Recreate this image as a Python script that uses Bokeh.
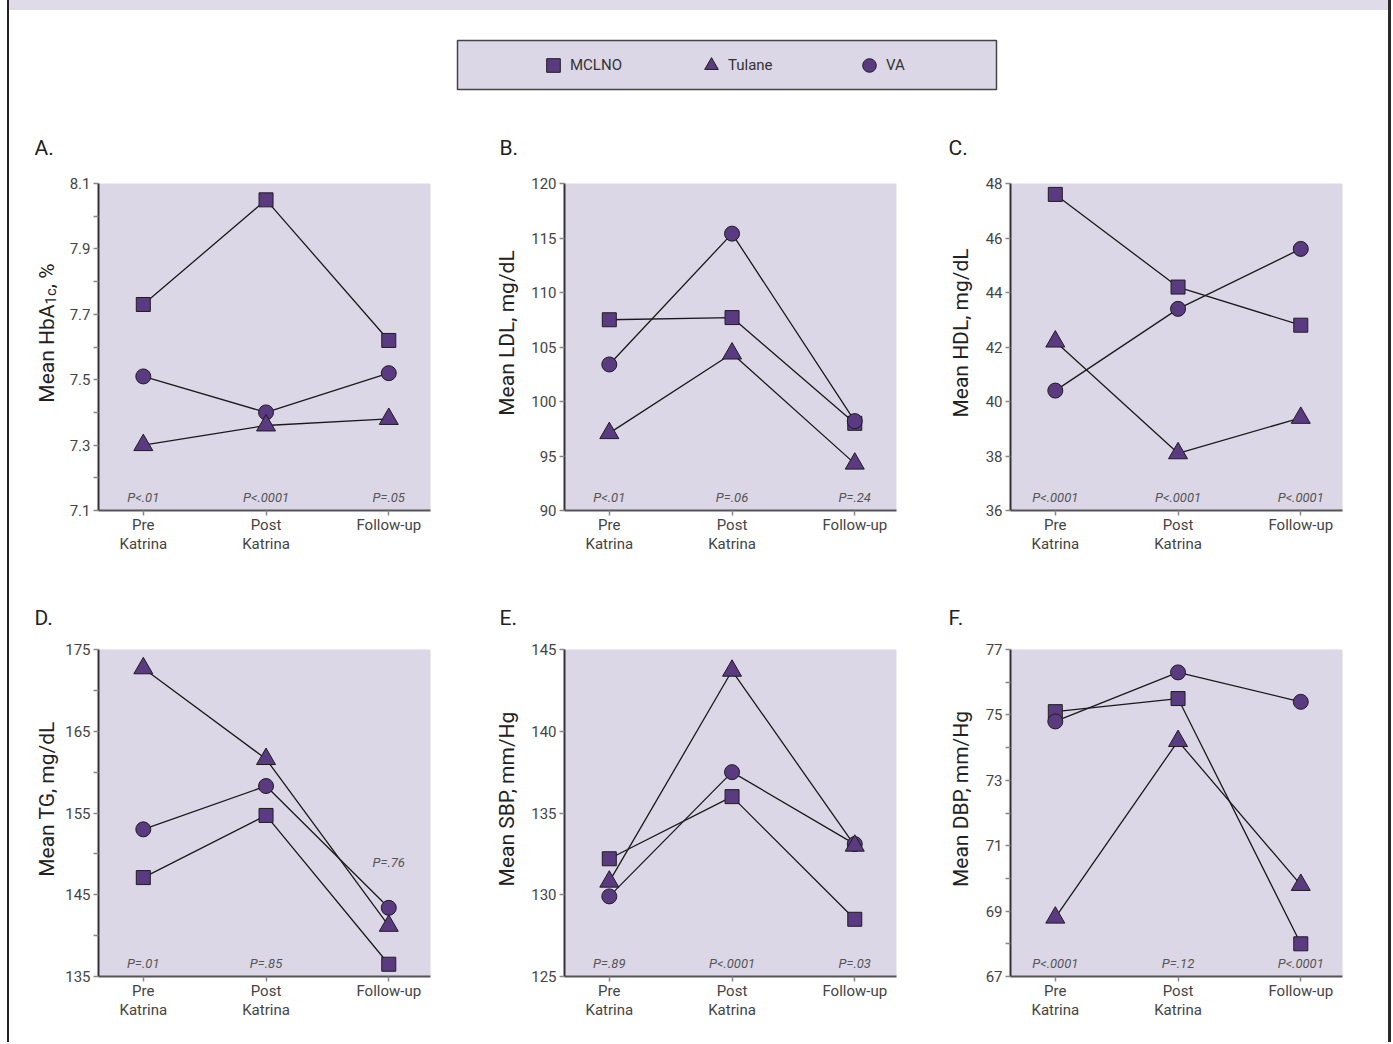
import numpy as np
from bokeh.plotting import figure
from bokeh.models import Range1d, FixedTicker, Label, Legend, LegendItem, BoxAnnotation, Div, Spacer
from bokeh.layouts import row, column
from bokeh.embed import file_html
from bokeh.resources import INLINE

# ---------------- data ----------------
timepoints = ["Pre\nKatrina", "Post\nKatrina", "Follow-up"]
sites = ["MCLNO", "Tulane", "VA"]
panel_letters = ["A.", "B.", "C.", "D.", "E.", "F."]

hba1c_mclno = [7.73, 8.05, 7.62]
hba1c_tulane = [7.30, 7.36, 7.38]
hba1c_va = [7.51, 7.40, 7.52]
hba1c_p = ["P<.01", "P<.0001", "P=.05"]
hba1c_ticks = [7.1, 7.3, 7.5, 7.7, 7.9, 8.1]
hba1c_minor = [7.2, 7.4, 7.6, 7.8, 8.0]

ldl_mclno = [107.5, 107.7, 98.0]
ldl_tulane = [97.1, 104.4, 94.3]
ldl_va = [103.4, 115.4, 98.2]
ldl_p = ["P<.01", "P=.06", "P=.24"]
ldl_ticks = [90, 95, 100, 105, 110, 115, 120]

hdl_mclno = [47.6, 44.2, 42.8]
hdl_tulane = [42.2, 38.1, 39.4]
hdl_va = [40.4, 43.4, 45.6]
hdl_p = ["P<.0001", "P<.0001", "P<.0001"]
hdl_ticks = [36, 38, 40, 42, 44, 46, 48]

tg_mclno = [147.1, 154.7, 136.5]
tg_tulane = [172.7, 161.6, 141.2]
tg_va = [153.0, 158.3, 143.4]
tg_p = ["P=.01", "P=.85", "P=.76"]
tg_ticks = [135, 145, 155, 165, 175]
tg_minor = [140, 150, 160, 170]

sbp_mclno = [132.2, 136.0, 128.5]
sbp_tulane = [130.8, 143.7, 133.0]
sbp_va = [129.9, 137.5, 133.1]
sbp_p = ["P=.89", "P<.0001", "P=.03"]
sbp_ticks = [125, 130, 135, 140, 145]

dbp_mclno = [75.1, 75.5, 68.0]
dbp_tulane = [68.8, 74.2, 69.8]
dbp_va = [74.8, 76.3, 75.4]
dbp_p = ["P<.0001", "P=.12", "P<.0001"]
dbp_ticks = [67, 69, 71, 73, 75, 77]
dbp_minor = [68, 70, 72, 74, 76]

# ---------------- style / layout ----------------
FONT = "Roboto"
PURPLE = "#5a3a80"
EDGE = "#1e1e1e"
LINE = "#1a1a1a"
FRAME = "#dbd7e6"
BAND = "#e0dbe8"
TXT = "#222222"
TICKTXT = "#444444"

MARKERS = {"MCLNO": ("square", 14), "VA": ("circle", 15), "Tulane": ("triangle", 19)}
DRAW_ORDER = ["MCLNO", "VA", "Tulane"]

TOTAL_H = 1042
MAIN_W = 1379
HDR_H = 160            # band-to-row-1 header (legend + letters A-C)
MID_H = 65             # strip with letters D-F
ROW_H = [400, 407]
ROW_T = [13, 14]
FRAME_W, FRAME_H = 332, 327

LAB_W = [[57, 50, 49], [53, 50, 49]]
PLOT_W = [[410, 406, 407], [414, 406, 407]]
PLOT_L = [[32, 38, 29], [36, 38, 29]]
YLAB_X = [37.5, 30.5, 28.5]
YLAB_Y = 149.5
YLAB_SIZE = 21
COL_X0 = [0, 467, 923]          # left of each column inside the main column
LETTER_DX = [25, 23, 16]


def side_strip(col, rw, parts):
    W, H, T = LAB_W[rw][col], ROW_H[rw], ROW_T[rw]
    B = H - T - FRAME_H
    s = figure(width=W, height=H, x_range=Range1d(0, W), y_range=Range1d(FRAME_H, 0),
               min_border_left=0, min_border_right=0, min_border_top=T, min_border_bottom=B,
               toolbar_location=None, output_backend="svg", x_axis_type=None, y_axis_type=None)
    s.outline_line_color = None
    for txt, size, align, dx, dy in parts:
        s.add_layout(Label(x=YLAB_X[col] + dx, y=YLAB_Y + dy, text=txt, angle=np.pi / 2,
                           text_align=align, text_baseline="alphabetic", text_font=FONT,
                           text_font_size=f"{size}px", text_color=TXT))
    return s


def panel(ticks, minor, series, pvals, col, rw, p_lift=None):
    W, L = PLOT_W[rw][col], PLOT_L[rw][col]
    H, T = ROW_H[rw], ROW_T[rw]
    R = W - L - FRAME_W
    B = H - T - FRAME_H
    x0, x1 = -0.365, 2.34
    y0, y1 = ticks[0], ticks[-1]
    p = figure(width=W, height=H, x_range=Range1d(x0, x1), y_range=Range1d(y0, y1),
               min_border_left=L, min_border_right=R, min_border_top=T, min_border_bottom=B,
               toolbar_location=None, output_backend="svg",
               background_fill_color=FRAME, border_fill_color="white")
    p.outline_line_color = None
    p.grid.visible = False

    xs = list(range(len(timepoints)))
    p.xaxis.ticker = FixedTicker(ticks=xs)
    p.xaxis.major_label_overrides = {i: t for i, t in enumerate(timepoints)}
    p.yaxis.ticker = FixedTicker(ticks=ticks, minor_ticks=minor or [])
    for ax in (p.xaxis, p.yaxis):
        ax.axis_line_width = 2
        ax.major_tick_in = 0
        ax.major_tick_out = 5
        ax.minor_tick_in = 0
        ax.minor_tick_out = 5
        ax.major_tick_line_color = "#888888"
        ax.minor_tick_line_color = "#888888"
        ax.major_tick_line_width = 1.5
        ax.minor_tick_line_width = 1.5
        ax.major_label_text_font = FONT
        ax.major_label_text_font_size = "15px"
        ax.major_label_text_color = TICKTXT
        ax.major_label_standoff = 3
    p.xaxis.major_label_standoff = 0
    p.xaxis.major_label_text_line_height = 1.1
    p.xaxis.axis_line_color = "#555555"
    p.yaxis.axis_line_color = "#333333"

    for name in DRAW_ORDER:
        p.line(xs, series[name], line_color=LINE, line_width=1.3)
    for name in DRAW_ORDER:
        mk, sz = MARKERS[name]
        p.scatter(xs, series[name], marker=mk, size=sz, fill_color=PURPLE,
                  line_color=EDGE, line_width=1)

    for i, pv in enumerate(pvals):
        lift = (p_lift or {}).get(i, 13)
        p.add_layout(Label(x=i, y=y0, y_offset=lift, text=pv, text_align="center",
                           text_baseline="middle", text_font=FONT, text_font_style="italic",
                           text_font_size="13px", text_color="#555555"))
    return p


def simple(t):
    return [(t, YLAB_SIZE, "center", 0, 0)]


hba1c_label = [("Mean HbA", YLAB_SIZE, "right", 0, -28.5), ("1c", 15, "left", 4, -28.5),
               (", %", YLAB_SIZE, "left", 0, -44.8)]

sA = side_strip(0, 0, hba1c_label)
sB = side_strip(1, 0, simple("Mean LDL, mg/dL"))
sC = side_strip(2, 0, simple("Mean HDL, mg/dL"))
sD = side_strip(0, 1, simple("Mean TG, mg/dL"))
sE = side_strip(1, 1, simple("Mean SBP, mm/Hg"))
sF = side_strip(2, 1, simple("Mean DBP, mm/Hg"))

pA = panel(hba1c_ticks, hba1c_minor, {"MCLNO": hba1c_mclno, "Tulane": hba1c_tulane, "VA": hba1c_va},
           hba1c_p, 0, 0)
pB = panel(ldl_ticks, None, {"MCLNO": ldl_mclno, "Tulane": ldl_tulane, "VA": ldl_va}, ldl_p, 1, 0)
pC = panel(hdl_ticks, None, {"MCLNO": hdl_mclno, "Tulane": hdl_tulane, "VA": hdl_va}, hdl_p, 2, 0)
pD = panel(tg_ticks, tg_minor, {"MCLNO": tg_mclno, "Tulane": tg_tulane, "VA": tg_va}, tg_p, 0, 1,
           p_lift={2: 114})
pE = panel(sbp_ticks, None, {"MCLNO": sbp_mclno, "Tulane": sbp_tulane, "VA": sbp_va}, sbp_p, 1, 1)
pF = panel(dbp_ticks, dbp_minor, {"MCLNO": dbp_mclno, "Tulane": dbp_tulane, "VA": dbp_va}, dbp_p, 2, 1)


def text_strip(height):
    f = figure(width=MAIN_W, height=height, x_range=Range1d(0, MAIN_W), y_range=Range1d(height, 0),
               min_border=0, toolbar_location=None, output_backend="svg",
               x_axis_type=None, y_axis_type=None)
    f.outline_line_color = None
    return f


def add_letters(f, letters, y):
    for c, t in enumerate(letters):
        f.add_layout(Label(x=COL_X0[c] + LETTER_DX[c], y=y, text=t, text_align="left",
                           text_baseline="middle", text_font=FONT, text_font_size="21px",
                           text_color=TXT))


# ---------------- header with legend + letters A-C ----------------
hdr = text_strip(HDR_H)
hdr.add_layout(BoxAnnotation(left=448, right=987, top=30, bottom=79, fill_color=FRAME, fill_alpha=1,
                             line_color="#444444", line_alpha=1, line_width=1.5))
items = []
for s in sites:
    mk, sz = MARKERS[s]
    # legend-only renderer: a single off-canvas point
    r = hdr.scatter([-50], [-50], marker=mk, size=sz, fill_color=PURPLE, line_color=EDGE, line_width=1)
    items.append(LegendItem(label=s, renderers=[r]))
legend = Legend(items=items, location=(527, HDR_H - 72), orientation="horizontal",
                glyph_width=34, glyph_height=34, label_standoff=0, label_width=124, spacing=0,
                padding=0, margin=0, background_fill_alpha=0, border_line_alpha=0,
                label_text_font=FONT, label_text_font_size="15px", label_text_color="#333333",
                label_text_baseline="middle")
hdr.add_layout(legend)
add_letters(hdr, panel_letters[:3], 137.5)

mid = text_strip(MID_H)
add_letters(mid, panel_letters[3:], 47)

band = Div(text="", width=MAIN_W, height=10, margin=0, styles={"background-color": BAND})

main = column(band, hdr,
              row(sA, pA, sB, pB, sC, pC),
              mid,
              row(sD, pD, sE, pE, sF, pF))
left_pad = Spacer(width=7, height=TOTAL_H, margin=0)
left_border = Div(text="", width=2, height=TOTAL_H, margin=0, styles={"background-color": "#222222"})
right_border = Div(text="", width=3, height=TOTAL_H, margin=0, styles={"background-color": "#2a2a2a"})
page = row(left_pad, left_border, main, right_border)

open("out.html", "w").write(file_html(page, INLINE))
